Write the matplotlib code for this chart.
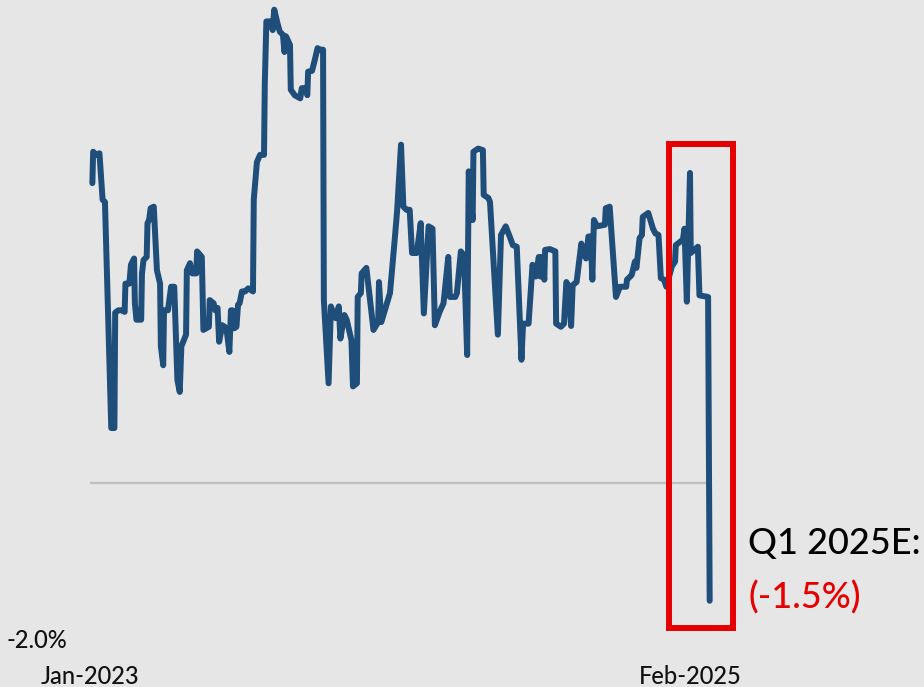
import matplotlib
matplotlib.use("Agg")
import matplotlib.pyplot as plt
import matplotlib.dates as mdates
from matplotlib.patches import Rectangle
from matplotlib.transforms import blended_transform_factory
import pandas as pd

plt.rcParams['font.family'] = ['Lato', 'DejaVu Sans']

# ---- data: GDP nowcast estimate (%) ----
dates = [
    "2023-01-04", "2023-01-05", "2023-01-09", "2023-01-13", "2023-01-17", "2023-01-20",
    "2023-01-28", "2023-02-01", "2023-02-02", "2023-02-06", "2023-02-10", "2023-02-14",
    "2023-02-15", "2023-02-20", "2023-02-22", "2023-02-26", "2023-02-27", "2023-03-01",
    "2023-03-07", "2023-03-08", "2023-03-10", "2023-03-14", "2023-03-15", "2023-03-17",
    "2023-03-19", "2023-03-23", "2023-03-26", "2023-03-27", "2023-03-31", "2023-04-01",
    "2023-04-04", "2023-04-05", "2023-04-10", "2023-04-14", "2023-04-18", "2023-04-22",
    "2023-04-25", "2023-04-27", "2023-05-03", "2023-05-04", "2023-05-08", "2023-05-11",
    "2023-05-16", "2023-05-17", "2023-05-23", "2023-05-25", "2023-06-01", "2023-06-02",
    "2023-06-07", "2023-06-09", "2023-06-12", "2023-06-14", "2023-06-18", "2023-06-21",
    "2023-06-24", "2023-06-27", "2023-06-29", "2023-07-01", "2023-07-03", "2023-07-06",
    "2023-07-08", "2023-07-10", "2023-07-13", "2023-07-17", "2023-07-21", "2023-07-27",
    "2023-07-28", "2023-08-01", "2023-08-05", "2023-08-10", "2023-08-11", "2023-08-13",
    "2023-08-19", "2023-08-21", "2023-08-23", "2023-08-27", "2023-08-30", "2023-09-03",
    "2023-09-05", "2023-09-07", "2023-09-12", "2023-09-13", "2023-09-18", "2023-09-25",
    "2023-09-27", "2023-10-01", "2023-10-04", "2023-10-05", "2023-10-10", "2023-10-14",
    "2023-10-17", "2023-10-20", "2023-10-24", "2023-10-25", "2023-10-31", "2023-11-03",
    "2023-11-06", "2023-11-09", "2023-11-13", "2023-11-15", "2023-11-20", "2023-11-23",
    "2023-11-29", "2023-12-01", "2023-12-06", "2023-12-07", "2023-12-11", "2023-12-12",
    "2023-12-18", "2023-12-27", "2024-01-02", "2024-01-03", "2024-01-06", "2024-01-12",
    "2024-01-17", "2024-01-23", "2024-01-26", "2024-01-31", "2024-02-03", "2024-02-07",
    "2024-02-11", "2024-02-14", "2024-02-20", "2024-02-25", "2024-02-29", "2024-03-06",
    "2024-03-11", "2024-03-14", "2024-03-20", "2024-03-25", "2024-03-31", "2024-04-02",
    "2024-04-09", "2024-04-11", "2024-04-16", "2024-04-20", "2024-04-24", "2024-04-26",
    "2024-05-01", "2024-05-02", "2024-05-08", "2024-05-14", "2024-05-15", "2024-05-21",
    "2024-05-23", "2024-06-02", "2024-06-06", "2024-06-12", "2024-06-17", "2024-06-21",
    "2024-06-26", "2024-07-02", "2024-07-04", "2024-07-11", "2024-07-16", "2024-07-20",
    "2024-07-24", "2024-07-26", "2024-07-28", "2024-07-31", "2024-08-01", "2024-08-07",
    "2024-08-14", "2024-08-15", "2024-08-21", "2024-08-25", "2024-08-28", "2024-08-31",
    "2024-09-03", "2024-09-05", "2024-09-10", "2024-09-16", "2024-09-18", "2024-09-22",
    "2024-09-25", "2024-09-28", "2024-09-30", "2024-10-02", "2024-10-06", "2024-10-16",
    "2024-10-17", "2024-10-22", "2024-10-30", "2024-11-04", "2024-11-06", "2024-11-12",
    "2024-11-13", "2024-11-19", "2024-11-23", "2024-11-25", "2024-11-29", "2024-12-02",
    "2024-12-03", "2024-12-10", "2024-12-16", "2024-12-19", "2024-12-23", "2024-12-26",
    "2024-12-30", "2025-01-02", "2025-01-09", "2025-01-13", "2025-01-14", "2025-01-19",
    "2025-01-23", "2025-01-25", "2025-01-28", "2025-02-01", "2025-02-02", "2025-02-11",
    "2025-02-13", "2025-02-24", "2025-02-26",
]
gdp_estimate = [
    3.82, 4.22, 4.18, 4.20, 3.61, 3.58,
    0.70, 0.70, 2.17, 2.20, 2.20, 2.18,
    2.54, 2.54, 2.78, 2.86, 2.29, 2.08,
    2.08, 2.67, 2.84, 2.88, 3.31, 3.35,
    3.50, 3.52, 2.93, 2.71, 2.54, 1.74,
    1.50, 2.20, 2.20, 2.50, 2.50, 1.31,
    1.16, 1.74, 1.89, 2.71, 2.80, 2.67,
    2.67, 2.95, 2.88, 1.95, 1.99, 2.33,
    2.29, 2.20, 2.23, 1.80, 2.01, 1.99,
    1.91, 1.67, 2.20, 2.20, 1.97, 1.99,
    2.27, 2.29, 2.44, 2.44, 2.48, 2.44,
    3.61, 4.09, 4.18, 4.18, 5.09, 5.88,
    5.88, 5.77, 6.03, 5.86, 5.75, 5.71,
    5.49, 5.69, 5.58, 5.01, 4.94, 4.90,
    5.03, 5.03, 4.94, 5.24, 5.25, 5.41,
    5.54, 5.52, 5.52, 2.33, 1.27, 2.25,
    2.16, 2.10, 2.25, 1.84, 2.14, 2.08,
    1.82, 1.23, 1.27, 2.37, 2.42, 2.67,
    2.74, 1.95, 2.05, 2.56, 2.05, 2.25,
    2.42, 3.10, 3.46, 4.31, 3.52, 3.48,
    3.48, 2.93, 2.93, 3.31, 2.16, 3.27,
    3.24, 2.01, 2.18, 2.29, 2.88, 2.37,
    2.37, 2.42, 2.95, 2.90, 1.63, 3.97,
    3.35, 4.22, 4.26, 4.24, 3.67, 3.63,
    3.58, 1.89, 3.16, 3.27, 3.14, 3.03,
    3.01, 1.57, 2.03, 2.03, 2.78, 2.63,
    2.88, 2.63, 2.88, 2.59, 2.97, 2.98,
    2.95, 2.03, 1.99, 2.03, 2.56, 2.50,
    2.00, 2.52, 2.56, 3.05, 2.97, 2.86,
    3.14, 3.14, 2.59, 3.35, 3.27, 3.29,
    3.50, 3.52, 2.37, 2.50, 2.50, 2.50,
    2.59, 2.65, 2.82, 2.74, 3.12, 3.16,
    3.39, 3.44, 3.24, 3.18, 3.16, 2.61,
    2.59, 2.50, 2.76, 2.82, 3.03, 3.07,
    3.10, 3.24, 2.31, 3.95, 2.93, 3.01,
    2.39, 2.37, -1.50,
]
tick_dates = ["2023-01-01", "2025-02-01"]
tick_labels = ["Jan-2023", "Feb-2025"]
y_min_label = "-2.0%"
callout_title = "Q1 2025E:"
callout_value = "(-1.5%)"

# ---- figure ----
BG = "#E6E6E6"
BLUE = "#1F4E7A"
RED = "#E60000"

fig = plt.figure(figsize=(9.24, 6.87), dpi=100, facecolor=BG)
ax = fig.add_axes([0.0, 47 / 687, 1.0, 640 / 687])
ax.set_facecolor(BG)

x = pd.to_datetime(dates)
t0 = pd.Timestamp(tick_dates[0])
ax.set_xlim(t0 - pd.Timedelta(days=114.3), t0 + pd.Timedelta(days=1059.2))
ax.set_ylim(-2.0, 483 / 78.5)

# zero reference line
ax.hlines(0, t0, x[-1] - pd.Timedelta(days=4), color="#BFBFBF", lw=1.6, zorder=1)

ax.plot(x, gdp_estimate, color=BLUE, lw=4.3, solid_joinstyle="round",
        solid_capstyle="round", zorder=3)

# red highlight box
box_left = pd.Timestamp("2025-01-05")
box_right = pd.Timestamp("2025-03-28")
rect = Rectangle((mdates.date2num(box_left), -1.85),
                 mdates.date2num(box_right) - mdates.date2num(box_left),
                 4.32 - (-1.85), fill=False, edgecolor=RED, lw=4.3,
                 joinstyle="miter", zorder=4, clip_on=False)
ax.add_patch(rect)

# ticks
ax.set_xticks(pd.to_datetime(tick_dates))
ax.set_xticklabels(tick_labels, fontsize=17, color="#111111", fontweight="medium")
ax.tick_params(axis="x", length=0, pad=18)
ax.set_yticks([])
for s in ax.spines.values():
    s.set_visible(False)

trans = blended_transform_factory(ax.transAxes, ax.transData)
ax.text(6 / 924, -2.0, y_min_label, transform=trans, ha="left", va="center",
        fontsize=17, color="#111111", fontweight="medium", clip_on=False)

fig.text(748 / 924, 1 - 554 / 687, callout_title, ha="left", va="baseline",
         fontsize=26, color="#000000", fontweight="medium")
fig.text(748 / 924, 1 - 608 / 687, callout_value, ha="left", va="baseline",
         fontsize=26, color=RED, fontweight="medium")

fig.savefig("out.png", dpi=100, facecolor=BG)
